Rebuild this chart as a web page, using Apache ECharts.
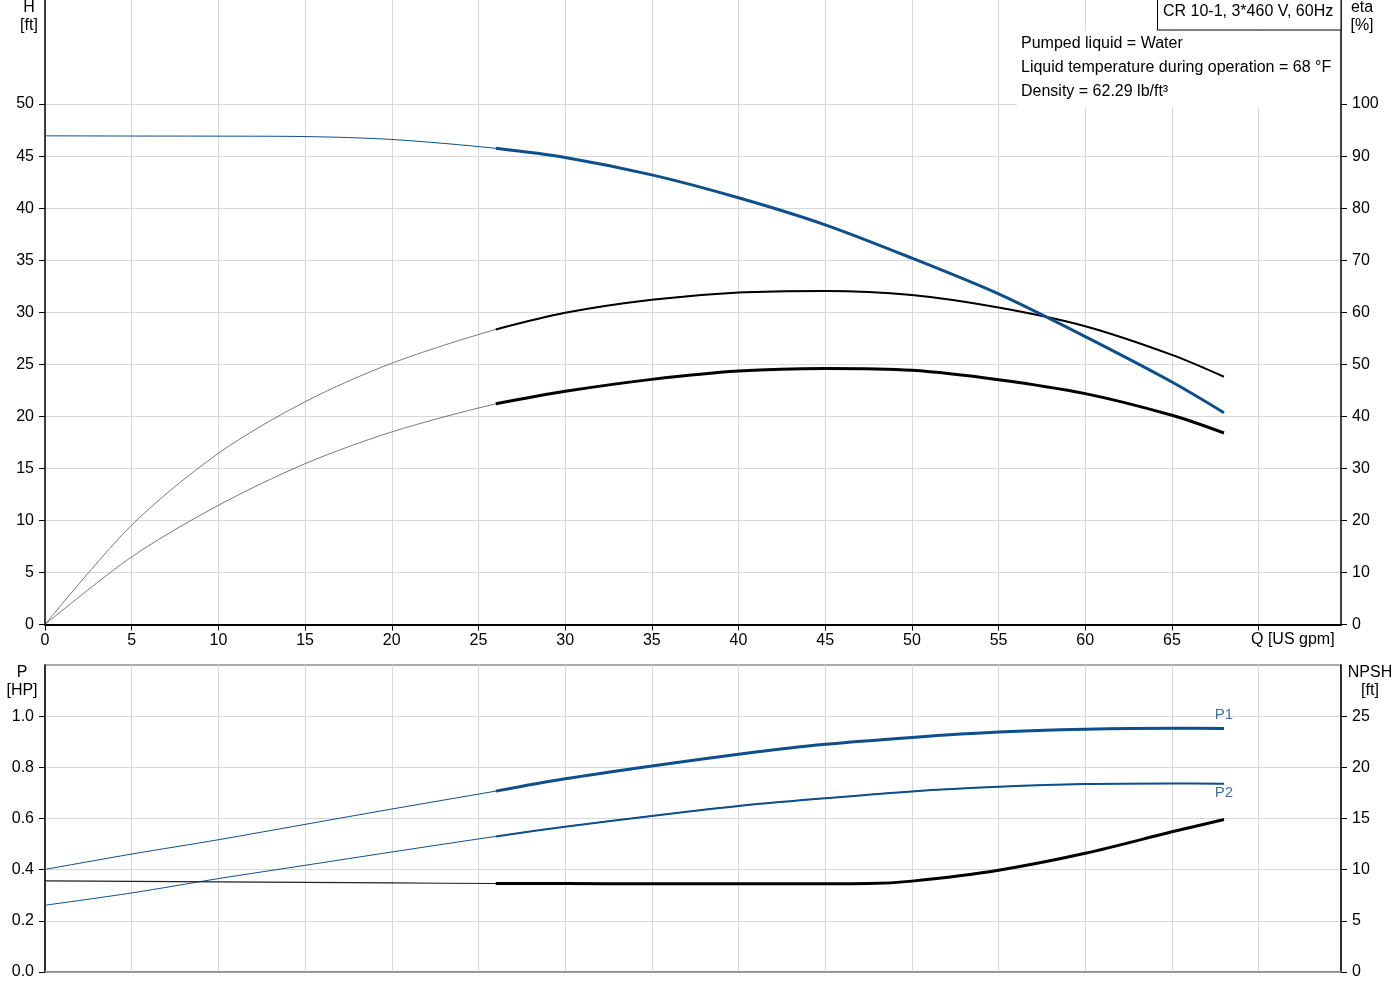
<!DOCTYPE html>
<html><head><meta charset="utf-8">
<script src="https://cdn.jsdelivr.net/npm/echarts@6/dist/echarts.min.js"></script>
<style>html,body{margin:0;padding:0;background:#fff}#c{width:1400px;height:1000px}</style>
</head><body><div id="c"></div>
<script>
// Flow (US gpm) sampling: thin part (outside recommended range) and thick part
const qLow = [0, 5, 10, 15, 20, 26];
const qHigh = [26, 30, 35, 40, 45, 50, 55, 60, 65, 68];
// Head H [ft]
const headLow = [46.95, 46.93, 46.92, 46.88, 46.6, 45.75];
const headHigh = [45.75, 44.87, 43.2, 41.0, 38.4, 35.2, 31.76, 27.66, 23.3, 20.35];
// Efficiency eta [%] (pump)
const etaLow = [0, 19.1, 32.9, 42.8, 50.2, 56.7];
const etaHigh = [56.7, 59.9, 62.4, 63.8, 64.1, 63.3, 60.9, 57.3, 51.8, 47.6];
// Efficiency eta [%] (total)
const etaTotLow = [0, 13.0, 22.9, 30.9, 37.0, 42.4];
const etaTotHigh = [42.4, 44.8, 47.1, 48.7, 49.2, 48.85, 47.05, 44.36, 40.2, 36.8];
// Power P1 / P2 [HP]
const p1Low = [0.401, 0.461, 0.517, 0.577, 0.637, 0.707];
const p1High = [0.707, 0.755, 0.805, 0.851, 0.890, 0.917, 0.938, 0.949, 0.953, 0.952];
const p2Low = [0.261, 0.309, 0.365, 0.417, 0.469, 0.530];
const p2High = [0.530, 0.568, 0.610, 0.649, 0.679, 0.706, 0.724, 0.735, 0.737, 0.736];
// NPSH [ft]
const npshLow = [8.9, 8.85, 8.8, 8.75, 8.7, 8.65];
const npshQHigh = [26, 30, 35, 40, 45, 47.5, 50, 55, 60, 65, 68];
const npshHigh = [8.65, 8.64, 8.62, 8.62, 8.62, 8.64, 8.88, 9.95, 11.6, 13.7, 14.9];

// Tick labels
const qTickVals = [0, 5, 10, 15, 20, 25, 30, 35, 40, 45, 50, 55, 60, 65, 70];
const qLabelVals = [0, 5, 10, 15, 20, 25, 30, 35, 40, 45, 50, 55, 60, 65];
const hTicks = [0, 5, 10, 15, 20, 25, 30, 35, 40, 45, 50];
const etaTicks = [0, 10, 20, 30, 40, 50, 60, 70, 80, 90, 100];
const pTicks = [0, 0.2, 0.4, 0.6, 0.8, 1.0];
const npshTicks = [0, 5, 10, 15, 20, 25];

const BLUE = '#0d4f8b';
const FONT = "'Liberation Sans', Arial, sans-serif";
const pair = (xs, ys) => xs.map((x, i) => [x, ys[i]]);
// full curve (thin part + thick part) so the thin line runs smoothly under the thick one
const full = (xl, yl, xh, yh) => pair(xl.concat(xh.slice(1)), yl.concat(yh.slice(1)));
const grid = '#d5d8dc';

function line(name, xi, yi, data, color, width, z) {
  return { name, type: 'line', xAxisIndex: xi, yAxisIndex: yi, data, smooth: 0.3,
    symbol: 'none', silent: true, z: z || 3,
    lineStyle: { color, width, cap: 'butt' } };
}
function thin(name, xi, yi, xl, yl, xh, yh, color, width) {
  return line(name, xi, yi, full(xl, yl, xh, yh), color, width, 2);
}

const chart = echarts.init(document.getElementById('c'), null, { renderer: 'canvas' });
const lbl = { color: '#000', fontSize: 16, fontFamily: FONT };
const txt = (x, y, text, align) => ({ type: 'text', z: 101, x, y,
  style: { text, fill: '#000', font: '16px ' + FONT, textAlign: align || 'left', textVerticalAlign: 'middle' } });

chart.setOption({
  animation: false,
  backgroundColor: '#fff',
  grid: [
    { left: 45, right: 59, top: 0, height: 624.5, show: false },
    { left: 45, right: 59, top: 665, height: 307, show: true, borderColor: '#555', borderWidth: 1.2 }
  ],
  xAxis: [
    { type: 'value', gridIndex: 0, min: 0, max: 74.75, interval: 5,
      axisLine: { show: true, onZero: false, lineStyle: { color: '#000', width: 2 } },
      axisTick: { show: true, length: 6, customValues: qTickVals, lineStyle: { color: '#000' } },
      axisLabel: Object.assign({ margin: 8, customValues: qLabelVals }, lbl),
      splitLine: { show: true, lineStyle: { color: grid, width: 1 } } },
    { type: 'value', gridIndex: 1, min: 0, max: 74.75, interval: 5,
      axisLine: { show: true, onZero: false, lineStyle: { color: '#888', width: 1.5 } },
      axisTick: { show: false }, axisLabel: { show: false },
      splitLine: { show: true, lineStyle: { color: grid, width: 1 } } }
  ],
  yAxis: [
    { type: 'value', gridIndex: 0, min: 0, max: 60, interval: 5, position: 'left',
      axisLine: { show: true, lineStyle: { color: '#000', width: 1.5 } },
      axisTick: { show: true, length: 6, customValues: hTicks, lineStyle: { color: '#000' } },
      axisLabel: Object.assign({ margin: 11, customValues: hTicks }, lbl),
      splitLine: { show: true, lineStyle: { color: grid, width: 1 } } },
    { type: 'value', gridIndex: 0, min: 0, max: 120, interval: 10, position: 'right',
      axisLine: { show: true, lineStyle: { color: '#000', width: 1.5 } },
      axisTick: { show: true, length: 6, customValues: etaTicks, lineStyle: { color: '#000' } },
      axisLabel: Object.assign({ margin: 11, customValues: etaTicks }, lbl),
      splitLine: { show: false } },
    { type: 'value', gridIndex: 1, min: 0, max: 1.2, interval: 0.2, position: 'left',
      axisLine: { show: true, lineStyle: { color: '#000', width: 1.5 } },
      axisTick: { show: true, length: 6, customValues: pTicks, lineStyle: { color: '#000' } },
      axisLabel: Object.assign({ margin: 11, customValues: pTicks, formatter: v => v.toFixed(1) }, lbl),
      splitLine: { show: true, lineStyle: { color: grid, width: 1 } } },
    { type: 'value', gridIndex: 1, min: 0, max: 30, interval: 5, position: 'right',
      axisLine: { show: true, lineStyle: { color: '#000', width: 1.5 } },
      axisTick: { show: true, length: 6, customValues: npshTicks, lineStyle: { color: '#000' } },
      axisLabel: Object.assign({ margin: 11, customValues: npshTicks }, lbl),
      splitLine: { show: false } }
  ],
  series: [
    thin('H thin', 0, 0, qLow, headLow, qHigh, headHigh, BLUE, 1),
    line('H', 0, 0, pair(qHigh, headHigh), BLUE, 3, 5),
    thin('eta thin', 0, 1, qLow, etaLow, qHigh, etaHigh, '#555', 0.8),
    line('eta', 0, 1, pair(qHigh, etaHigh), '#000', 2, 4),
    thin('eta tot thin', 0, 1, qLow, etaTotLow, qHigh, etaTotHigh, '#555', 0.8),
    line('eta tot', 0, 1, pair(qHigh, etaTotHigh), '#000', 3, 4),
    thin('P1 thin', 1, 2, qLow, p1Low, qHigh, p1High, BLUE, 1),
    line('P1', 1, 2, pair(qHigh, p1High), BLUE, 3, 4),
    thin('P2 thin', 1, 2, qLow, p2Low, qHigh, p2High, BLUE, 1),
    line('P2', 1, 2, pair(qHigh, p2High), BLUE, 2, 4),
    thin('NPSH thin', 1, 3, qLow, npshLow, npshQHigh, npshHigh, '#222', 1.2),
    line('NPSH', 1, 3, pair(npshQHigh, npshHigh), '#000', 3, 4),
    { type: 'scatter', xAxisIndex: 1, yAxisIndex: 2, silent: true, symbolSize: 1,
      itemStyle: { color: 'transparent' },
      data: [[qHigh[qHigh.length - 1], p1High[p1High.length - 1]]],
      label: { show: true, position: 'top', distance: 6, formatter: 'P1', color: BLUE, fontSize: 15, fontFamily: FONT } },
    { type: 'scatter', xAxisIndex: 1, yAxisIndex: 2, silent: true, symbolSize: 1,
      itemStyle: { color: 'transparent' },
      data: [[qHigh[qHigh.length - 1], p2High[p2High.length - 1]]],
      label: { show: true, position: 'bottom', distance: 1, formatter: 'P2', color: BLUE, fontSize: 15, fontFamily: FONT } }
  ],
  graphic: [
    { type: 'rect', z: 100, shape: { x: 1157.5, y: -1, width: 183.5, height: 31 },
      style: { fill: '#fff', stroke: '#000', lineWidth: 1 } },
    txt(1163, 12, 'CR 10-1, 3*460 V, 60Hz'),
    { type: 'rect', z: 100, shape: { x: 1017, y: 31, width: 323, height: 76 }, style: { fill: '#fff' } },
    txt(1021, 44, 'Pumped liquid = Water'),
    txt(1021, 68, 'Liquid temperature during operation = 68 °F'),
    txt(1021, 92, 'Density = 62.29 lb/ft³'),
    txt(29, 8, 'H', 'center'),
    txt(29, 26, '[ft]', 'center'),
    txt(1362, 8, 'eta', 'center'),
    txt(1362, 26, '[%]', 'center'),
    txt(1251, 640, 'Q [US gpm]'),
    txt(22, 673, 'P', 'center'),
    txt(22, 691, '[HP]', 'center'),
    txt(1370, 673, 'NPSH', 'center'),
    txt(1370, 691, '[ft]', 'center')
  ]
});
</script>
</body></html>
